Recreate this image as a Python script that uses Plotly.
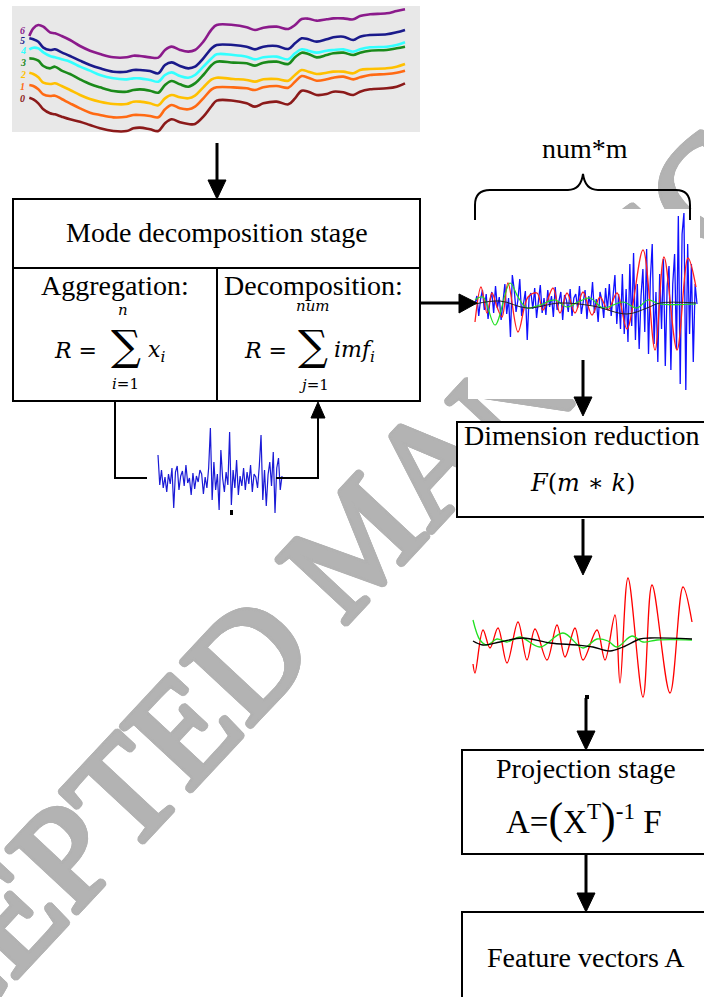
import math
import numpy as np
import plotly.graph_objects as go

W, H = 704, 997
def px(x): return x / W
def py(y): return 1 - y / H

# ---------------- data ----------------
stack_x = [88,100,115,130,150,165,185,210,240,270,300,340,380,400,420,450,475,495,515,540,
           565,585,610,635,650,700,740,765,790,830,865,885,905,925,950,980,1000,1030,1060,1080,
           1110,1160,1190,1215]
series_6 = [108,85,75,80,97,100,108,120,138,152,162,172,172,167,168,172,173,150,140,150,
            155,150,125,88,75,75,82,90,83,80,87,75,57,56,62,58,55,55,58,48,43,40,33,28]
series_5 = [115,118,125,143,150,148,157,168,182,195,205,215,215,210,210,213,220,195,187,198,
            205,200,175,145,135,135,140,148,140,138,147,130,115,118,125,118,112,110,120,110,105,103,97,90]
series_4 = [148,143,145,157,168,172,178,185,200,212,225,235,238,235,235,240,245,225,217,228,
            233,225,200,175,163,165,170,178,172,170,178,160,148,152,158,152,150,148,155,148,142,140,135,127]
series_3 = [175,176,182,198,205,200,212,222,238,252,262,273,275,270,268,272,278,255,243,253,
            260,250,225,195,185,188,190,197,188,185,192,172,158,162,172,165,160,158,165,158,152,150,145,140]
series_2 = [218,222,232,248,252,250,258,270,285,297,305,312,312,305,305,310,316,295,285,292,
            295,287,262,238,233,237,240,245,238,237,242,225,210,215,222,218,215,215,220,210,207,205,200,192]
series_1 = [255,258,268,283,288,287,297,310,325,338,345,352,350,345,345,348,352,328,315,325,
            328,320,295,268,262,262,265,270,262,258,263,245,228,233,242,238,233,230,238,232,225,222,218,212]
series_0 = [293,298,310,328,340,343,350,358,365,375,385,393,393,385,383,388,393,370,358,367,
            372,372,350,318,302,302,310,320,310,305,313,295,272,275,285,282,275,277,285,275,268,265,260,250]
stack_series = [series_0, series_1, series_2, series_3, series_4, series_5, series_6]
stack_labels = ["0", "1", "2", "3", "4", "5", "6"]
stack_label_y = [295, 258, 222, 188, 152, 122, 90]

agg_signal = [25,-5,10,-8,3,-12,6,-4,12,-28,8,14,-10,4,9,-6,15,-3,2,-15,7,-9,4,-2,10,6,-14,3,-8,12,
              52,-20,18,-10,6,-30,30,2,-12,8,-5,48,-25,10,-8,20,-15,4,-6,12,-10,8,-4,15,-12,6,3,-8,14,45,
              -20,10,-26,5,18,-6,28,-33,12,22,-10,4]

imf_blue = [0,8,-12,5,14,-6,10,-15,3,12,-9,18,-4,7,-16,2,20,-10,6,-33,
            29,15,-8,4,25,-12,0,13,-36,7,11,-5,16,-14,3,19,-9,6,-11,14,
            -3,8,-13,17,-6,2,12,-16,9,4,-8,15,-12,6,10,-4,18,-10,3,14,
            -15,8,-2,22,-9,5,-18,12,4,-14,16,-6,20,-12,8,29,-20,10,-25,30,
            -30,15,-38,40,-22,51,-36,20,-45,8,35,-28,55,-50,25,60,-40,12,-58,30,
            -25,45,-62,18,38,-66,20,50,-45,88,-80,70,91,-86,60,-30,40,-58,20,0]
imf_red_x = [475,481,487,492,497,502,508,518,528,537,543,553,560,567,575,583,592,600,608,617,627,643,655,664,677,688,696]
imf_red_y = [-18,17,-9,11,-3,-13,21,-28,7,11,-6,16,-9,11,-9,12,-11,7,-6,11,-25,54,-46,47,-46,46,17]
imf_green_x = [475,483,495,510,518,527,540,555,567,578,590,603,623,637,648,660,696]
imf_green_y = [4,7,-21,21,7,-4,-1,4,-3,2,6,-4,2,-4,4,0,0]
imf_black_x = [475,500,527,560,593,627,647,660,696]
imf_black_y = [0,3,-4,1,-2,-10,-4,1,1]

red_x = [473,475,483,490,498,507,518,527,535,547,557,565,575,583,597,605,615,620,628,643,652,670,683,692]
red_y = [-22,-31,12,-6,14,-21,20,-18,13,-18,17,-15,14,-18,12,-18,27,-41,64,-55,57,-51,55,20]
green_x = [473,480,487,497,507,520,540,563,583,597,608,617,632,643,657,692]
green_y = [22,2,-3,3,0,5,-5,9,-6,3,1,-5,6,0,2,2]
black_x = [473,483,500,523,550,577,593,610,623,640,650,692]
black_y = [1,-3,0,4,-1,-3,-5,-9,-5,3,4,3]

stack_colors = ["#8b1a1a", "#ff6a13", "#ffc000", "#1a8a1a", "#33ffff", "#1a1a8b", "#8b1a8b"]
WM_GRAY = "#b3b3b3"
WM_PART1 = "ACCEPTED MA"
WM_PART2 = "NUSCRIPT"

# ---------------- figure ----------------
fig = go.Figure()

def dom_x(a, b): return [px(a), px(b)]
def dom_y(top, bottom): return [py(bottom), py(top)]

fig.add_trace(go.Scatter(x=[0], y=[0], mode="markers", marker=dict(opacity=0),
                         hoverinfo="skip", xaxis="x", yaxis="y"))
for s, c in zip(stack_series, stack_colors):
    fig.add_trace(go.Scatter(x=stack_x, y=s, mode="lines", line=dict(color=c, width=2.6, shape="spline"),
                             hoverinfo="skip", xaxis="x2", yaxis="y2"))
fig.add_trace(go.Scatter(x=np.linspace(158, 282, len(agg_signal)), y=agg_signal, mode="lines",
                         line=dict(color="#1a1ad6", width=1.2), hoverinfo="skip", xaxis="x3", yaxis="y3"))
fig.add_trace(go.Scatter(x=np.linspace(475, 697, len(imf_blue)), y=imf_blue, mode="lines",
                         line=dict(color="#1010ff", width=1.3), hoverinfo="skip", xaxis="x4", yaxis="y4"))
fig.add_trace(go.Scatter(x=imf_red_x, y=imf_red_y, mode="lines", line=dict(color="#ff2020", width=1.3, shape="spline"),
                         hoverinfo="skip", xaxis="x4", yaxis="y4"))
fig.add_trace(go.Scatter(x=imf_green_x, y=imf_green_y, mode="lines", line=dict(color="#20e020", width=1.2, shape="spline"),
                         hoverinfo="skip", xaxis="x4", yaxis="y4"))
fig.add_trace(go.Scatter(x=imf_black_x, y=imf_black_y, mode="lines", line=dict(color="#202020", width=1.0, shape="spline"),
                         hoverinfo="skip", xaxis="x4", yaxis="y4"))
fig.add_trace(go.Scatter(x=red_x, y=red_y, mode="lines", line=dict(color="#ff0000", width=1.3, shape="spline"),
                         hoverinfo="skip", xaxis="x5", yaxis="y5"))
fig.add_trace(go.Scatter(x=green_x, y=green_y, mode="lines", line=dict(color="#20e020", width=1.3, shape="spline"),
                         hoverinfo="skip", xaxis="x5", yaxis="y5"))
fig.add_trace(go.Scatter(x=black_x, y=black_y, mode="lines", line=dict(color="#000000", width=1.3, shape="spline"),
                         hoverinfo="skip", xaxis="x5", yaxis="y5"))

ax = dict(visible=False, fixedrange=True)
fig.update_layout(
    xaxis=dict(ax, domain=dom_x(150, 704), range=[0, 1], anchor="y"),
    yaxis=dict(ax, domain=dom_y(200, 720), range=[0, 1], anchor="x"),
    xaxis2=dict(ax, domain=dom_x(0, 420), range=[0, 1260], anchor="y2"),
    yaxis2=dict(ax, domain=dom_y(0, 135), range=[405, 0], anchor="x2"),
    xaxis3=dict(ax, domain=dom_x(150, 290), range=[150, 290], anchor="y3"),
    yaxis3=dict(ax, domain=dom_y(424, 520), range=[-40, 56], anchor="x3"),
    xaxis4=dict(ax, domain=dom_x(468, 700), range=[468, 700], anchor="y4"),
    yaxis4=dict(ax, domain=dom_y(209, 399), range=[-95, 95], anchor="x4"),
    xaxis5=dict(ax, domain=dom_x(466, 696), range=[466, 696], anchor="y5"),
    yaxis5=dict(ax, domain=dom_y(572, 702), range=[-60, 70], anchor="x5"),
)

# watermark geometry (Times metrics, em units)
WM_SIZE = 144
WM_ANGLE = 47
wx, wy = 358, 540
ux, uy = math.cos(math.radians(WM_ANGLE)), -math.sin(math.radians(WM_ANGLE))
full_w = 11.862 * WM_SIZE
p1_w = 7.028 * WM_SIZE
p2_w = 4.834 * WM_SIZE
start_off = -full_w / 2
c1 = start_off + p1_w / 2
c2 = start_off + p1_w + p2_w / 2
c1x, c1y = wx + c1 * ux, wy + c1 * uy
c2x, c2y = wx + c2 * ux, wy + c2 * uy

sh = []
for r in (1.0, 2.0, 3.0):
    n = 16
    for k in range(n):
        a = 2 * math.pi * k / n
        sh.append(f"{r*math.cos(a):.1f}px {r*math.sin(a):.1f}px 0px {WM_GRAY}")
WM_SHADOW = ", ".join(sh)
wm_font = dict(family="Liberation Serif", size=WM_SIZE, color=WM_GRAY, shadow=WM_SHADOW)

shapes = []
shapes.append(dict(type="rect", xref="paper", yref="paper", x0=px(12), x1=px(420), y0=py(132), y1=py(6),
                   fillcolor="#e8e8e8", line=dict(width=0), layer="below"))
shapes.append(dict(type="rect", xref="paper", yref="paper", x0=px(c2x - 0.5), x1=px(c2x + 0.5),
                   y0=py(c2y + 0.5), y1=py(c2y - 0.5),
                   fillcolor="rgba(0,0,0,0)", line=dict(width=0), layer="below",
                   label=dict(text=WM_PART2, textangle=-WM_ANGLE, textposition="middle center", font=wm_font)))

def box(x0, y0, x1, y1):
    shapes.append(dict(type="rect", xref="paper", yref="paper", x0=px(x0), x1=px(x1), y0=py(y1), y1=py(y0),
                       fillcolor="white", line=dict(color="black", width=2), layer="below"))
box(13, 199, 420, 401)
box(462, 750, 712, 854)
box(462, 912, 712, 1005)

def line(x0, y0, x1, y1, w=2):
    shapes.append(dict(type="line", xref="paper", yref="paper", x0=px(x0), y0=py(y0), x1=px(x1), y1=py(y1),
                       line=dict(color="black", width=w), layer="above"))
line(13, 268, 420, 268)
line(217, 268, 217, 401)

def tri(pts):
    path = "M " + " L ".join(f"{px(a):.5f},{py(b):.5f}" for a, b in pts) + " Z"
    shapes.append(dict(type="path", xref="paper", yref="paper", path=path, fillcolor="black",
                       line=dict(color="black", width=1), layer="above"))

def arrow_down(x, y0, y1, head=19, hw=9, w=3):
    line(x, y0, x, y1 - head + 2, w)
    tri([(x - hw, y1 - head), (x + hw, y1 - head), (x, y1)])

arrow_down(217, 143, 199)
arrow_down(583, 360, 416)
arrow_down(583, 519, 575)
arrow_down(586, 698, 750)
arrow_down(586, 853, 912)
line(420, 303, 461, 303, 3)
tri([(459, 294), (459, 313), (477, 303)])
line(115, 401, 115, 478)
line(114, 478, 147, 478)
line(276, 478, 319, 478)
line(318, 479, 318, 416)
tri([(311, 418), (325, 418), (318, 402)])
shapes.append(dict(type="rect", xref="paper", yref="paper", x0=px(230), x1=px(233), y0=py(515), y1=py(510),
                   fillcolor="black", line=dict(width=0), layer="above"))
shapes.append(dict(type="rect", xref="paper", yref="paper", x0=px(585), x1=px(589), y0=py(699), y1=py(695),
                   fillcolor="black", line=dict(width=0), layer="above"))
brace = [("M", 475, 220), ("L", 475, 205), ("Q", 475, 190, 490, 190), ("L", 568, 190),
         ("Q", 581, 190, 583, 174), ("Q", 585, 190, 598, 190), ("L", 676, 190),
         ("Q", 690, 190, 690, 205), ("L", 690, 220)]
parts = []
for seg in brace:
    nums = seg[1:]
    coords = [f"{px(nums[i]):.5f},{py(nums[i+1]):.5f}" for i in range(0, len(nums), 2)]
    parts.append(seg[0] + " " + " ".join(coords))
shapes.append(dict(type="path", xref="paper", yref="paper", path=" ".join(parts),
                   line=dict(color="black", width=2), layer="above"))
fig.update_layout(shapes=shapes)

SERIF = "Liberation Serif"
MATH = "DejaVu Serif"
ann = []
ann.append(dict(x=px(c1x), y=py(c1y), xref="paper", yref="paper", text=WM_PART1, showarrow=False,
                textangle=-WM_ANGLE, xanchor="center", yanchor="middle", font=wm_font))
ann.append(dict(x=px(583.5), y=py(469.5), xref="paper", yref="paper", text=" ", showarrow=False,
                xanchor="center", yanchor="middle", width=251, height=93, borderpad=0,
                bgcolor="white", bordercolor="black", borderwidth=2, font=dict(size=10)))

def text(x, y, t, size=28, family=SERIF, xanchor="center", color="black"):
    ann.append(dict(x=px(x), y=py(y), xref="paper", yref="paper", text=t, showarrow=False,
                    xanchor=xanchor, yanchor="middle", font=dict(family=family, size=size, color=color)))

text(217, 233, "Mode decomposition stage")
text(115, 286, "Aggregation:")
text(313, 286, "Decomposition:")
text(99, 350, "<i>R</i> =", size=22, family=MATH, xanchor="right")
text(126, 345, "∑", size=42, family=MATH)
text(123, 310, "<i>n</i>", size=15, family=MATH)
text(125, 384, "<i>i</i>=1", size=15, family=MATH)
text(146, 351, "<i>x</i><sub><i>i</i></sub>", size=22, family=MATH, xanchor="left")
text(289, 350, "<i>R</i> =", size=22, family=MATH, xanchor="right")
text(313, 345, "∑", size=42, family=MATH)
text(313, 306, "<i>num</i>", size=15, family=MATH)
text(314, 385, "<i>j</i>=1", size=15, family=MATH)
text(332, 351, "<i>imf</i><sub><i>i</i></sub>", size=22, family=MATH, xanchor="left")

text(585, 149, "num*m")
text(582, 435, "Dimension reduction")
text(582, 483, "<i>F</i>(<i>m</i> ∗ <i>k</i>)", size=24, family=MATH)
text(586, 768, "Projection stage")
text(584, 818, "A=<span style='font-size:44px'>(</span>X<sup>T</sup><span style='font-size:44px'>)</span><sup>-1</sup> F", size=33)
text(586, 957, "Feature vectors A")

for lab, ly, c in zip(stack_labels, stack_label_y, stack_colors):
    ann.append(dict(x=68, y=ly, xref="x2", yref="y2", text=f"<b><i>{lab}</i></b>", showarrow=False,
                    xanchor="center", yanchor="middle", font=dict(family=SERIF, size=10, color=c)))

fig.update_layout(annotations=ann, width=W, height=H, margin=dict(l=0, r=0, t=0, b=0),
                  paper_bgcolor="white", plot_bgcolor="white", showlegend=False)

fig.write_html("out.html", config={"displayModeBar": False})
